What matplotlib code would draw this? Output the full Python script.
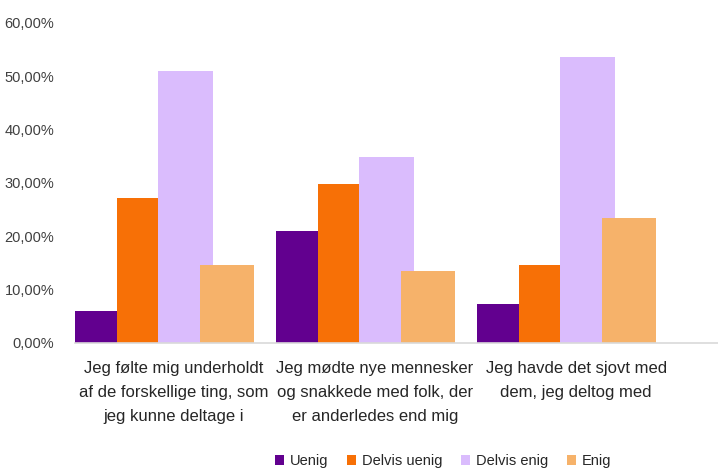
import matplotlib
matplotlib.use("Agg")
import matplotlib.pyplot as plt
from matplotlib.patches import Patch
import numpy as np

plt.rcParams['font.family'] = ['Liberation Sans', 'DejaVu Sans']

categories = [
    "Jeg følte mig underholdt\naf de forskellige ting, som\njeg kunne deltage i",
    "Jeg mødte nye mennesker\nog snakkede med folk, der\ner anderledes end mig",
    "Jeg havde det sjovt med\ndem, jeg deltog med",
]
series_names = ["Uenig", "Delvis uenig", "Delvis enig", "Enig"]
uenig = [6.0, 21.0, 7.3]
delvis_uenig = [27.2, 29.8, 14.6]
delvis_enig = [51.0, 34.9, 53.6]
enig = [14.6, 13.5, 23.5]
yticks = [0, 10, 20, 30, 40, 50, 60]

series_values = [uenig, delvis_uenig, delvis_enig, enig]
colors = ["#62008f", "#f77006", "#dabcfd", "#f6b26a"]
lefts = [-0.4925, -0.284, -0.08, 0.129]
widths = [0.209, 0.204, 0.274, 0.269]

W, H = 718, 468
fig = plt.figure(figsize=(W / 100, H / 100), dpi=100)
ax = fig.add_axes([75 / W, 1 - 343 / H, 1 - 75 / W, (343 - 23) / H])

x = np.arange(len(categories))
for vals, col, lo, w in zip(series_values, colors, lefts, widths):
    ax.bar(x + lo, vals, width=w, align='edge', color=col, zorder=2)

ax.set_xlim(-0.4925, 2.706)
ax.set_ylim(0, 60)
ax.set_yticks(yticks)
ax.set_yticklabels([f"{v:.2f}".replace('.', ',') + "%" for v in yticks],
                   fontsize=10.5, color="#404040")
ax.set_xticks(x)
ax.set_xticklabels(categories, fontsize=12, color="#262626", linespacing=1.75)
ax.tick_params(axis='y', length=0, pad=15)
ax.tick_params(axis='x', length=0, pad=13)

for s in ['top', 'right', 'left']:
    ax.spines[s].set_visible(False)
ax.spines['bottom'].set_color('#d9d9d9')
ax.spines['bottom'].set_linewidth(1.2)

handles = [Patch(facecolor=c, label=n) for c, n in zip(colors, series_names)]
fig.legend(handles=handles, loc='center', bbox_to_anchor=(443 / W, 1 - 461 / H),
           ncol=4, frameon=False, fontsize=10.5, handlelength=0.6, handleheight=0.7,
           handletextpad=0.4, columnspacing=1.3, labelcolor="#262626")

fig.savefig("out.png", dpi=100)
